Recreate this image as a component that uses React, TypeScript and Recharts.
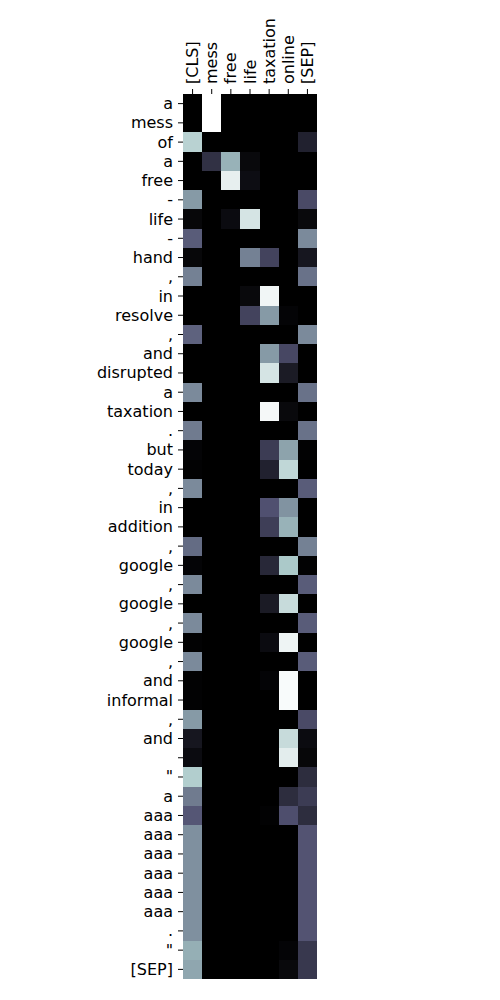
import { ScatterChart, Scatter, XAxis, YAxis } from 'recharts'

// key tokens (columns) and query tokens (rows)
const keyTokens = ['[CLS]', 'mess', 'free', 'life', 'taxation', 'online', '[SEP]']
const queryTokens = [
  'a', 'mess', 'of', 'a', 'free', '-', 'life', '-', 'hand', ',', 'in', 'resolve', ',',
  'and', 'disrupted', 'a', 'taxation', '.', 'but', 'today', ',', 'in', 'addition', ',',
  'google', ',', 'google', ',', 'google', ',', 'and', 'informal', ',', 'and', '', '"',
  'a', 'aaa', 'aaa', 'aaa', 'aaa', 'aaa', 'aaa', '.', '"', '[SEP]'
]

// attention weights, one row per query token, one value per key token
const weights = [
  [0, 1, 0, 0, 0, 0, 0],
  [0, 1, 0, 0, 0, 0, 0],
  [0.8, 0, 0, 0, 0, 0, 0.15],
  [0, 0.22, 0.68, 0.04, 0, 0, 0],
  [0, 0, 0.93, 0.06, 0, 0, 0],
  [0.6, 0, 0, 0, 0, 0, 0.33],
  [0.03, 0, 0.05, 0.88, 0, 0, 0.04],
  [0.4, 0, 0, 0, 0, 0, 0.55],
  [0.03, 0, 0, 0.52, 0.3, 0, 0.1],
  [0.52, 0, 0, 0, 0, 0, 0.47],
  [0, 0, 0, 0.04, 0.96, 0, 0],
  [0, 0, 0, 0.3, 0.6, 0.02, 0],
  [0.42, 0, 0, 0, 0, 0, 0.55],
  [0, 0, 0, 0, 0.6, 0.32, 0],
  [0, 0, 0, 0, 0.88, 0.12, 0],
  [0.55, 0, 0, 0, 0, 0, 0.47],
  [0, 0, 0, 0, 0.97, 0.04, 0],
  [0.5, 0, 0, 0, 0, 0, 0.47],
  [0.02, 0, 0, 0, 0.27, 0.63, 0.01],
  [0.01, 0, 0, 0, 0.15, 0.82, 0],
  [0.55, 0, 0, 0, 0, 0, 0.4],
  [0, 0, 0, 0, 0.36, 0.58, 0],
  [0, 0, 0, 0, 0.28, 0.68, 0],
  [0.45, 0, 0, 0, 0, 0, 0.52],
  [0.02, 0, 0, 0, 0.18, 0.76, 0.01],
  [0.55, 0, 0, 0, 0, 0, 0.4],
  [0, 0, 0, 0, 0.12, 0.84, 0],
  [0.55, 0, 0, 0, 0, 0, 0.4],
  [0.01, 0, 0, 0, 0.05, 0.95, 0],
  [0.55, 0, 0, 0, 0, 0, 0.4],
  [0.01, 0, 0, 0, 0.02, 0.98, 0],
  [0.01, 0, 0, 0, 0, 0.98, 0],
  [0.6, 0, 0, 0, 0, 0, 0.33],
  [0.1, 0, 0, 0, 0, 0.84, 0.05],
  [0.05, 0, 0, 0, 0, 0.92, 0.03],
  [0.78, 0, 0, 0, 0, 0, 0.2],
  [0.5, 0, 0, 0, 0, 0.2, 0.27],
  [0.38, 0, 0, 0, 0.01, 0.35, 0.2],
  [0.57, 0, 0, 0, 0, 0, 0.37],
  [0.57, 0, 0, 0, 0, 0, 0.37],
  [0.57, 0, 0, 0, 0, 0, 0.37],
  [0.57, 0, 0, 0, 0, 0, 0.37],
  [0.57, 0, 0, 0, 0, 0, 0.37],
  [0.57, 0, 0, 0, 0, 0, 0.37],
  [0.67, 0, 0, 0, 0, 0.02, 0.25],
  [0.64, 0, 0, 0, 0, 0.04, 0.25]
]

const FONT = '"DejaVu Sans", sans-serif'
// plot area 134 x 885 px
const CELL_W = 134 / keyTokens.length
const CELL_H = 885 / queryTokens.length

// matplotlib 'bone' colormap
function bone(v: number): string {
  const r = v < 0.746032 ? 0.875 * v : 0.652778 + (v - 0.746032) * 1.3672
  const g = v < 0.365079 ? 0.875 * v
    : v < 0.746032 ? 0.319444 + (v - 0.365079) * 1.20312
    : 0.777778 + (v - 0.746032) * 0.875
  const b = v < 0.365079 ? 1.21739 * v : 0.444444 + (v - 0.365079) * 0.875
  const h = (n: number) => Math.round(Math.min(1, Math.max(0, n)) * 255)
  return `rgb(${h(r)},${h(g)},${h(b)})`
}

const cells = weights.flatMap((row, i) => row.map((v, j) => ({ col: j, row: i, v })))

const colTicks = keyTokens.map((_, i) => i)
const rowTicks = queryTokens.map((_, i) => i)

const TopTick = (props: any) => {
  const { x, y, payload } = props
  const ty = y - 3
  return (
    <text x={x} y={ty} transform={`rotate(-90 ${x} ${ty})`} textAnchor="start"
      dominantBaseline="central" fontSize={16} fontFamily={FONT} fill="#000">
      {keyTokens[payload.value]}
    </text>
  )
}

const LeftTick = (props: any) => {
  const { x, y, payload } = props
  return (
    <text x={x - 3} y={y} textAnchor="end" dominantBaseline="central"
      fontSize={16} fontFamily={FONT} fill="#000">
      {queryTokens[payload.value]}
    </text>
  )
}

const Cell = (props: any) => {
  const { cx, cy, payload } = props
  return (
    <rect x={cx - CELL_W / 2} y={cy - CELL_H / 2} width={CELL_W + 1} height={CELL_H + 1}
      fill={bone(payload.v)} shapeRendering="crispEdges" />
  )
}

export default function App() {
  return (
    <ScatterChart width={480} height={990} margin={{ top: 6, right: 171, bottom: 9, left: 95 }}>
      <XAxis xAxisId="top" orientation="top" type="number" dataKey="col" domain={[-0.5, 6.5]}
        ticks={colTicks} interval={0} height={80} tick={<TopTick />} tickSize={5}
        tickLine={{ stroke: '#000' }} axisLine={false} allowDataOverflow />
      <XAxis xAxisId="bottom" orientation="bottom" type="number" dataKey="col" domain={[-0.5, 6.5]}
        ticks={colTicks} interval={0} height={10} tick={false} tickSize={5}
        tickLine={{ stroke: '#000' }} axisLine={false} allowDataOverflow />
      <YAxis type="number" dataKey="row" domain={[-0.5, 45.5]} reversed ticks={rowTicks}
        interval={0} width={80} tickSize={5} tickLine={{ stroke: '#000' }} axisLine={false}
        allowDataOverflow tick={<LeftTick />} />
      <Scatter xAxisId="top" data={cells} shape={<Cell />} isAnimationActive={false} />
    </ScatterChart>
  )
}
